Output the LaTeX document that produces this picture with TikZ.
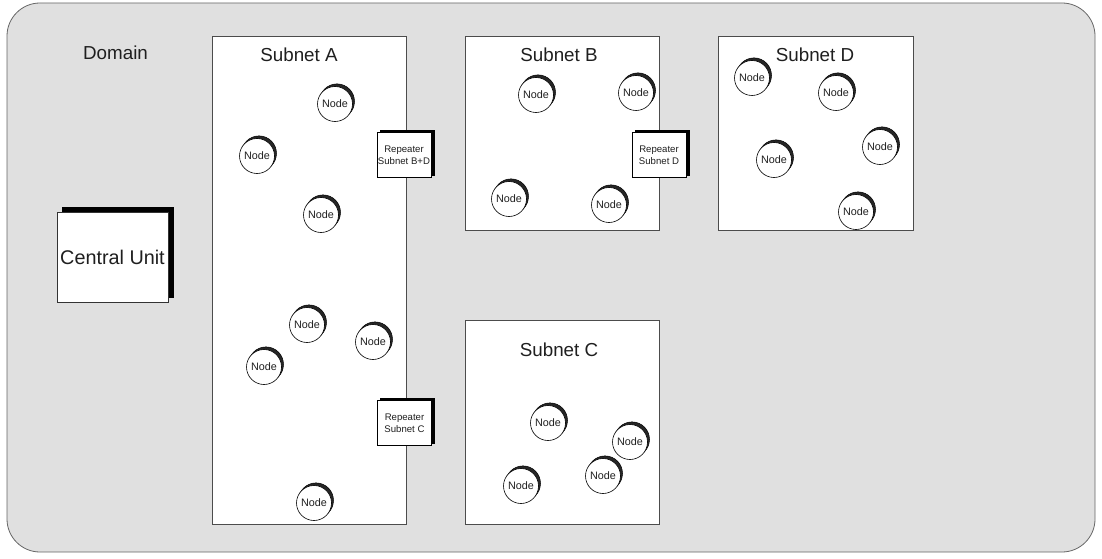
\documentclass[tikz,border=0pt]{standalone}
\usepackage{fontspec}
\setmainfont{Liberation Sans}
\usetikzlibrary{shadows}
\definecolor{domgray}{HTML}{E0E0E0}
\begin{document}
\begin{tikzpicture}[x=1pt,y=-1pt,
  dombox/.style={draw=black!60, fill=domgray, rounded corners=33pt, line width=0.8pt, minimum width=1088pt, minimum height=549pt, inner sep=0pt},
  subnetbox/.style={draw=black!70, fill=white, line width=0.8pt, inner sep=0pt},
  titletext/.style={font=\fontsize{18.8}{21}\selectfont, text=black!88, inner sep=0pt},
  nodecirc/.style={circle, draw=black, fill=white, line width=0.6pt, minimum size=35pt, inner sep=0pt,
    font=\fontsize{10.8}{12}\selectfont, text=black!88,
    copy shadow={shadow xshift=2pt, shadow yshift=2.6pt, fill=black!85, draw=black, line width=0.5pt}},
  repbox/.style={draw=black, fill=white, line width=0.5pt, minimum width=54pt, minimum height=45pt, inner sep=0pt,
    align=center, font=\fontsize{9.6}{11.8}\selectfont, text=black!88,
    copy shadow={shadow xshift=3pt, shadow yshift=2pt, fill=black, draw=black}},
  cubox/.style={draw=black!80, fill=white, line width=0.6pt, minimum width=111pt, minimum height=90pt, inner sep=0pt,
    font=\fontsize{19.8}{22}\selectfont, text=black!88,
    copy shadow={shadow xshift=5pt, shadow yshift=5pt, fill=black, draw=black}}
]
\useasboundingbox (0,0) rectangle (1102,559);
\node[dombox] (dom) at (551,277.5) {};
\node[titletext] (domlbl) at (115.5,53) {Domain};

% subnets
\node[subnetbox, minimum width=194pt, minimum height=488pt] (sa) at (309,280) {};
\node[subnetbox, minimum width=194pt, minimum height=194pt] (sb) at (562,133) {};
\node[subnetbox, minimum width=195pt, minimum height=194pt] (sd) at (815.5,133) {};
\node[subnetbox, minimum width=194pt, minimum height=204pt] (sc) at (562,422) {};
\node[titletext] (ta) at (299,55) {Subnet A};
\node[titletext] (tb) at (559,55) {Subnet B};
\node[titletext] (td) at (815,55) {Subnet D};
\node[titletext] (tc) at (559,350) {Subnet C};

% central unit
\node[cubox] (cu) at (112.5,257) {Central Unit};

% repeaters
\node[repbox] (rbd) at (404,155) {Repeater\\Subnet B+D};
\node[repbox] (rd) at (659,155) {Repeater\\Subnet D};
\node[repbox] (rc) at (404.5,423) {Repeater\\Subnet C};

% subnet A nodes
\node[nodecirc] (a1) at (335,104) {Node};
\node[nodecirc] (a2) at (257,156) {Node};
\node[nodecirc] (a3) at (321,215) {Node};
\node[nodecirc] (a4) at (307,325) {Node};
\node[nodecirc] (a5) at (373,342) {Node};
\node[nodecirc] (a6) at (264,367) {Node};
\node[nodecirc] (a7) at (314,503) {Node};

% subnet B nodes
\node[nodecirc] (b1) at (536,95) {Node};
\node[nodecirc] (b2) at (636,93) {Node};
\node[nodecirc] (b3) at (509,199) {Node};
\node[nodecirc] (b4) at (609,205) {Node};

% subnet D nodes
\node[nodecirc] (d1) at (752,78) {Node};
\node[nodecirc] (d2) at (836,93) {Node};
\node[nodecirc] (d3) at (774,160) {Node};
\node[nodecirc] (d4) at (880,147) {Node};
\node[nodecirc] (d5) at (856,212) {Node};

% subnet C nodes
\node[nodecirc] (c1) at (548,423) {Node};
\node[nodecirc] (c2) at (630,442) {Node};
\node[nodecirc] (c3) at (603,476) {Node};
\node[nodecirc] (c4) at (521,486) {Node};
\end{tikzpicture}
\end{document}
